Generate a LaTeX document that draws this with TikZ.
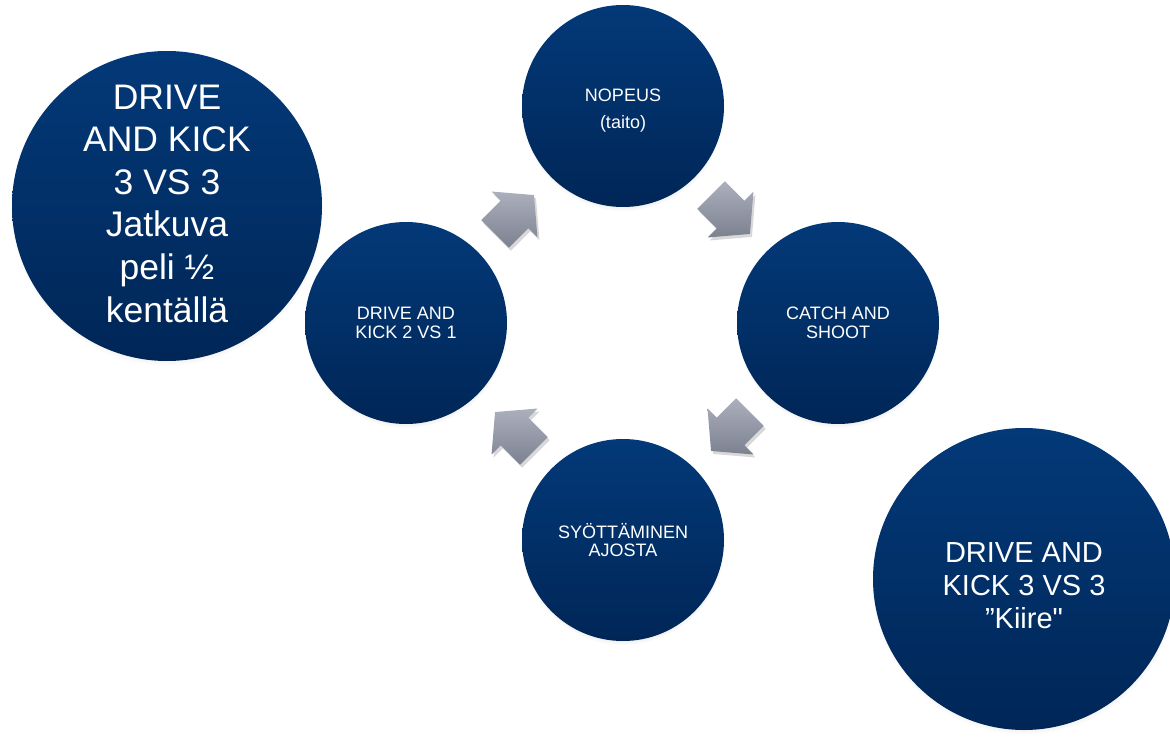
\documentclass[tikz,border=0pt]{standalone}
\usepackage{fontspec}
\setmainfont{Liberation Sans}[Ligatures=TeXOff]
\usetikzlibrary{shadows,calc}

\definecolor{navytop}{RGB}{3,57,120}
\definecolor{navybottom}{RGB}{0,38,87}
\definecolor{arrowtop}{RGB}{172,176,189}
\definecolor{arrowbottom}{RGB}{124,129,144}

% text lowered inside its circle, box size kept
\newcommand{\lowered}[2]{\raisebox{-#1}[\height][\depth]{\begin{tabular}{@{}c@{}}#2\end{tabular}}}

\tikzset{
	ball/.style={circle, inner sep=0pt, align=center, text=white,
		top color=navytop, bottom color=navybottom,
		circular drop shadow={shadow xshift=0pt, shadow yshift=-3pt, shadow scale=1.01, opacity=0.35}},
	smallball/.style={ball, minimum size=202pt, font=\fontsize{18}{18.7}\selectfont},
	turnfill/.style={top color=arrowtop, bottom color=arrowbottom, draw=none,
		drop shadow={shadow xshift=2pt, shadow yshift=-3pt, opacity=0.3}},
	turn/.pic={
		\path[turnfill] (-27.5,-19.5) -- (0,-19.5) -- (0,-32.5) -- (27.5,0)
			-- (0,32.5) -- (0,19.5) -- (-27.5,19.5) -- cycle;
	}
}

\begin{document}
\begin{tikzpicture}[x=1pt,y=1pt,yscale=-1,xscale=1]
	%set diagram size to 1170 x 741
	\fill[white] (0,0) rectangle (1170,741);
	\useasboundingbox (0,0) rectangle (1170,741);

	%Shape: Circle, the four steps
	\node[smallball] (nopeus) at (623,106) {\lowered{5pt}{NOPEUS\\[8pt](taito)}};
	\node[smallball] (catch) at (838,323) {CATCH AND\\SHOOT};
	\node[smallball] (syotto) at (623,540) {SYÖTTÄMINEN\\AJOSTA};
	\node[smallball] (drive) at (406,323) {DRIVE AND\\KICK 2 VS 1};

	%Shape: Arrow, between the steps
	\pic[rotate=45] (arrowa) at ($(drive)!0.5!(nopeus)$) {turn};
	\pic[rotate=-45] (arrowb) at ($(nopeus)!0.5!(catch)$) {turn};
	\pic[rotate=-135] (arrowc) at ($(catch)!0.5!(syotto)$) {turn};
	\pic[rotate=135] (arrowd) at ($(syotto)!0.5!(drive)$) {turn};

	%Shape: Circle, the two games
	\node[ball, minimum size=310pt, font=\fontsize{35.5}{42.6}\selectfont] (jatkuva) at (167,206)
		{\lowered{1pt}{DRIVE\\AND KICK\\3 VS 3\\Jatkuva\\peli ½\\kentällä}};
	\node[ball, minimum size=302pt, font=\fontsize{29}{33}\selectfont] (kiire) at (1024,579)
		{\lowered{10pt}{DRIVE AND\\KICK 3 VS 3\\”Kiire"}};
\end{tikzpicture}
\end{document}
